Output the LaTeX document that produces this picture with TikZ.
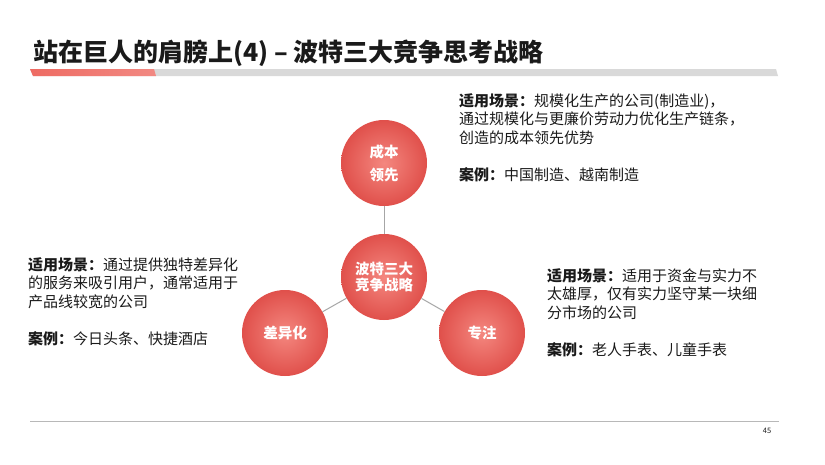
\documentclass[tikz,border=0pt]{standalone}
\usepackage{fontspec}
\setmainfont{Noto Sans CJK SC}
\usetikzlibrary{calc}
\definecolor{txtc}{HTML}{1A1A1A}
\definecolor{redout}{HTML}{E0504B}
\definecolor{redin}{HTML}{F4877F}
\definecolor{linec}{HTML}{A6A6A6}
\definecolor{barg}{HTML}{D9D9D9}
\definecolor{barr}{HTML}{EE6B63}
\tikzset{
  bubble/.style={circle, minimum size=86pt, inner sep=0pt, shading=radial,
    inner color=redin, outer color=redout, text=white,
    font=\fontsize{14.5}{17}\selectfont\bfseries, align=center},
  desc/.style={anchor=north west, inner sep=0pt, align=left, text=txtc,
    font=\fontsize{15}{18.5}\selectfont},
  link/.style={draw=linec, line width=1pt}
}
\begin{document}
\begin{tikzpicture}[x=1pt,y=-1pt]
\useasboundingbox (0,0) rectangle (825,464);
% title
\node[anchor=base west, inner sep=0pt, text=txtc, font=\fontsize{25}{29}\selectfont\bfseries] (title) at (33,61) {站在巨人的肩膀上(4) – 波特三大竞争思考战略};
% title bar
\fill[barg] (30,69) -- (776,69) -- (778,76) -- (33,76) -- cycle;
\shade[left color=barr, right color=barr!80!white] (30,69) -- (154,69) -- (156,76) -- (33,76) -- cycle;
% circles
\node[bubble] (c) at (384,277) {波特三大\\[-1pt]竞争战略};
\node[bubble, font=\fontsize{14.5}{23}\selectfont\bfseries] (t) at (384,163) {成本\\领先};
\node[bubble] (l) at (285,333) {差异化};
\node[bubble] (r) at (482,333) {专注};
\draw[link] (c) -- (t);
\draw[link] (c) -- (l);
\draw[link] (c) -- (r);
% descriptions
\node[desc] (dt) at (459,93) {\textbf{适用场景：}规模化生产的公司(制造业)，\\通过规模化与更廉价劳动力优化生产链条，\\创造的成本领先优势\\[18.5pt]\textbf{案例：}中国制造、越南制造};
\node[desc] (dl) at (28,257) {\textbf{适用场景：}通过提供独特差异化\\的服务来吸引用户，通常适用于\\产品线较宽的公司\\[18.5pt]\textbf{案例：}今日头条、快捷酒店};
\node[desc] (dr) at (547,268) {\textbf{适用场景：}适用于资金与实力不\\太雄厚，仅有实力坚守某一块细\\分市场的公司\\[18.5pt]\textbf{案例：}老人手表、儿童手表};
% footer
\draw[draw=barg!85!black, line width=0.8pt] (30,421) -- (779,421);
\node[inner sep=0pt, text=txtc, font=\fontsize{7.5}{9}\selectfont] (pg) at (767,431) {45};
\end{tikzpicture}
\end{document}
